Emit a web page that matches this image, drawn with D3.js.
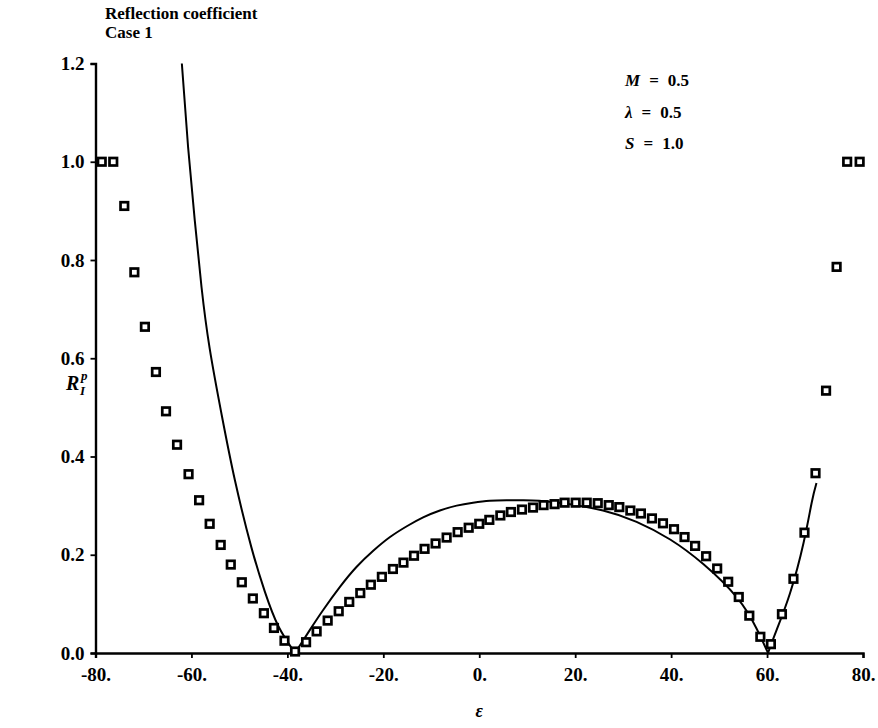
<!DOCTYPE html>
<html>
<head>
<meta charset="utf-8">
<script src="https://cdn.jsdelivr.net/npm/d3@7"></script>
<style>
  body { margin: 0; background: #fff; }
  svg text { fill: #000; }
</style>
</head>
<body>
<svg id="chart" width="878" height="728"></svg>
<script>
const width = 878;
const height = 728;

// tick values
const xTicks = [-80, -60, -40, -20, 0, 20, 40, 60, 80];
const yTicks = [0, 0.2, 0.4, 0.6, 0.8, 1.0, 1.2];

// square markers
const markerEps = [-78.7, -76.3, -74.0, -71.9, -69.7, -67.4, -65.3, -63.0, -60.6, -58.4, -56.2, -53.9, -51.8, -49.5, -47.2, -44.9, -42.8, -40.6, -38.4,
  -36.1, -33.9, -31.6, -29.3, -27.1, -24.8, -22.6, -20.3, -18.0, -15.8, -13.6, -11.4, -9.1, -6.8, -4.5, -2.2, 0.0, 2.1, 4.4, 6.6, 8.9, 11.2, 13.4, 15.7, 17.8, 20.1,
  22.4, 24.7, 27.0, 29.2, 31.5, 33.7, 36.0, 38.3, 40.6, 42.8, 45.0, 47.3, 49.6, 51.9, 54.1, 56.3, 58.6, 60.8, 63.1, 65.5, 67.8, 70.1, 72.3, 74.5, 76.7, 79.3];
const markerR = [1.0, 1.0, 0.910, 0.775, 0.664, 0.572, 0.492, 0.424, 0.364, 0.311, 0.263, 0.220, 0.180, 0.144, 0.111, 0.081, 0.051, 0.025, 0.003,
  0.022, 0.044, 0.066, 0.085, 0.104, 0.122, 0.139, 0.155, 0.171, 0.184, 0.198, 0.212, 0.223, 0.235, 0.246, 0.255, 0.263, 0.271, 0.280, 0.287, 0.292, 0.296, 0.301, 0.303, 0.306, 0.306,
  0.306, 0.305, 0.301, 0.297, 0.290, 0.284, 0.274, 0.264, 0.252, 0.236, 0.218, 0.197, 0.172, 0.145, 0.114, 0.076, 0.033, 0.018, 0.079, 0.151, 0.245, 0.366, 0.534, 0.786, 1.0, 1.0];

// solid curve, three branches meeting at the zeros
const lineLeftEps = [-62.0, -60.7, -59.3, -57.9, -56.2, -53.7, -50.9, -47.5, -44.7, -41.9, -38.4];
const lineLeftR = [1.2, 1.03, 0.88, 0.745, 0.62, 0.485, 0.35, 0.215, 0.125, 0.055, 0.0];
const lineMidEps = [-38.4, -35.3, -32.5, -29.0, -25.6, -22.1, -18.6, -15.1, -11.7, -8.2, -4.7, -1.3, 2.2, 5.7, 9.2, 12.5, 15.5, 18.9, 25.8, 32.8, 39.8, 46.7, 53.7, 57.8, 60.2];
const lineMidR = [0, 0.047, 0.088, 0.135, 0.175, 0.208, 0.236, 0.258, 0.276, 0.290, 0.300, 0.306, 0.310, 0.311, 0.311, 0.310, 0.307, 0.303, 0.290, 0.267, 0.231, 0.181, 0.113, 0.050, 0.0];
const lineRightEps = [60.2, 62.0, 64.8, 67.6, 69.3, 70.3];
const lineRightR = [0, 0.047, 0.122, 0.224, 0.306, 0.346];

const params = ["M = 0.5", "λ = 0.5", "S = 1.0"];

const svg = d3.select("#chart");

const x = d3.scaleLinear().domain([-80, 80]).range([95.5, 863]);
const y = d3.scaleLinear().domain([0, 1.2]).range([653, 63.5]);

const serif = "'Liberation Serif', 'Times New Roman', serif";

// title
["Reflection coefficient", "Case 1"].forEach((t, i) => {
  svg.append("text")
    .attr("x", 105)
    .attr("y", 19 + i * 18.5)
    .attr("font-family", serif)
    .attr("font-weight", "bold")
    .attr("font-size", 17)
    .text(t);
});

// axes
const xAxis = d3.axisBottom(x)
  .tickValues(xTicks)
  .tickSize(5)
  .tickPadding(8)
  .tickFormat(d => d + ".");

const yAxis = d3.axisLeft(y)
  .tickValues(yTicks)
  .tickSize(5)
  .tickPadding(6)
  .tickFormat(d3.format(".1f"));

const gx = svg.append("g")
  .attr("transform", `translate(0,${y(0)})`)
  .call(xAxis);

const gy = svg.append("g")
  .attr("transform", `translate(${x(-80)},0)`)
  .call(yAxis);

[gx, gy].forEach(g => {
  g.select(".domain").attr("stroke", "#000").attr("stroke-width", 2.4);
  g.selectAll(".tick line").attr("stroke", "#000").attr("stroke-width", 1.8);
  g.selectAll(".tick text")
    .attr("font-family", serif)
    .attr("font-weight", "bold")
    .attr("font-size", 19)
    .attr("fill", "#000");
});
gx.selectAll(".tick text").attr("dy", "0.8em");

// curve
const line = d3.line()
  .x(d => x(d[0]))
  .y(d => y(d[1]))
  .curve(d3.curveNatural);

const branches = [
  d3.zip(lineLeftEps, lineLeftR),
  d3.zip(lineMidEps, lineMidR),
  d3.zip(lineRightEps, lineRightR)
];

svg.append("g")
  .selectAll("path")
  .data(branches)
  .join("path")
  .attr("d", line)
  .attr("fill", "none")
  .attr("stroke", "#000")
  .attr("stroke-width", 2);

// square markers
const sq = 7.5;
svg.append("g")
  .selectAll("rect")
  .data(d3.zip(markerEps, markerR))
  .join("rect")
  .attr("x", d => x(d[0]) - sq / 2)
  .attr("y", d => y(d[1]) - sq / 2)
  .attr("width", sq)
  .attr("height", sq)
  .attr("fill", "#fff")
  .attr("stroke", "#000")
  .attr("stroke-width", 2.7);

// parameter labels
const pg = svg.append("g")
  .attr("font-family", serif)
  .attr("font-weight", "bold")
  .attr("font-size", 17);

params.forEach((p, i) => {
  const [sym, rest] = p.split(" = ");
  const t = pg.append("text")
    .attr("x", 625)
    .attr("y", 86 + i * 31.6);
  t.append("tspan").attr("font-style", "italic").text(sym);
  t.append("tspan").attr("dx", 9).text("=");
  t.append("tspan").attr("dx", 9).text(rest);
});

// y label R_I^p
const ylab = svg.append("g")
  .attr("font-family", serif)
  .attr("font-style", "italic")
  .attr("font-weight", "bold");
ylab.append("text").attr("x", 66).attr("y", 390).attr("font-size", 20).text("R");
ylab.append("text").attr("x", 81).attr("y", 380).attr("font-size", 13).text("p");
ylab.append("text").attr("x", 80).attr("y", 395).attr("font-size", 13).text("I");

// x label
svg.append("text")
  .attr("x", x(0))
  .attr("y", 717)
  .attr("text-anchor", "middle")
  .attr("font-family", serif)
  .attr("font-style", "italic")
  .attr("font-weight", "bold")
  .attr("font-size", 18)
  .text("ε");
</script>
</body>
</html>
